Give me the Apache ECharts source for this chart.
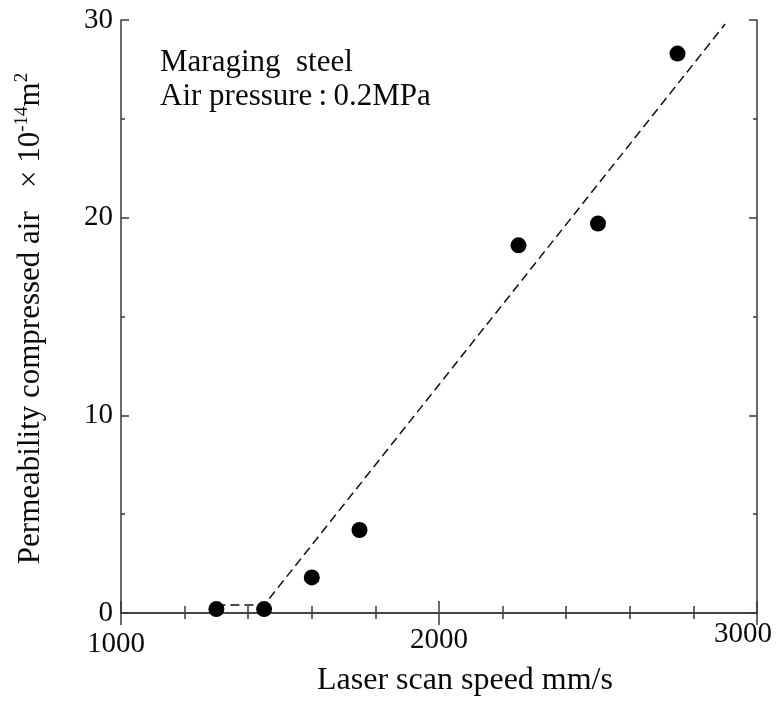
<!DOCTYPE html>
<html>
<head>
<meta charset="utf-8">
<script src="https://cdn.jsdelivr.net/npm/echarts@6/dist/echarts.min.js"></script>
<style>
  html, body { margin: 0; padding: 0; background: #fff; }
  #chart { width: 779px; height: 702px; }
</style>
</head>
<body>
<div id="chart"></div>
<script>
// Measured permeability vs. laser scan speed
const scanSpeed = [1300, 1450, 1600, 1750, 2250, 2500, 2750];
const permeability = [0.2, 0.2, 1.8, 4.2, 18.6, 19.7, 28.3];

// Trend line (flat region, then linear rise)
const trendSpeed = [1300, 1450, 2900];
const trendValue = [0.4, 0.4, 29.8];

// Axis ranges and tick labels
const xTicks = [1000, 2000, 3000];
const yTicks = [0, 10, 20, 30];

const FONT = '"Liberation Serif", "Times New Roman", serif';
const AXIS_COLOR = '#3a3a3a';
const TEXT_COLOR = '#0a0a0a';

const chart = echarts.init(document.getElementById('chart'), null, { renderer: 'canvas' });

const points = scanSpeed.map((s, i) => [s, permeability[i]]);
const trend = trendSpeed.map((s, i) => [s, trendValue[i]]);

// Staggered placement of the x tick labels
const xLabelStyle = {
  x1000: { fontFamily: FONT, fontSize: 29, color: TEXT_COLOR, padding: [10, 10, 0, 0] },
  x2000: { fontFamily: FONT, fontSize: 29, color: TEXT_COLOR, padding: [6, 0, 0, 0] },
  x3000: { fontFamily: FONT, fontSize: 29, color: TEXT_COLOR, padding: [0, 28, 0, 0] }
};

const axisLineStyle = { show: true, lineStyle: { color: AXIS_COLOR, width: 1.5 } };

chart.setOption({
  animation: false,
  backgroundColor: '#fff',
  grid: { left: 121, width: 636, top: 20, height: 597, containLabel: false },
  xAxis: [
    {
      type: 'value',
      position: 'bottom',
      min: xTicks[0],
      max: xTicks[xTicks.length - 1],
      interval: 1000,
      axisLine: axisLineStyle,
      axisTick: { show: true, inside: true, length: 12, lineStyle: { color: AXIS_COLOR, width: 1.5 } },
      minorTick: { show: true, splitNumber: 5, length: 7, lineStyle: { color: AXIS_COLOR, width: 1.5 } },
      splitLine: { show: false },
      axisLabel: {
        margin: 7,
        formatter: v => xTicks.includes(v) ? '{x' + v + '|' + v + '}' : '',
        rich: xLabelStyle
      },
      name: 'Laser scan speed mm/s',
      nameLocation: 'middle',
      nameGap: 52,
      nameTextStyle: { fontFamily: FONT, fontSize: 32, color: TEXT_COLOR, padding: [0, 0, 0, 52] }
    },
    {
      type: 'value',
      position: 'top',
      min: xTicks[0],
      max: xTicks[xTicks.length - 1],
      interval: 1000,
      axisLine: axisLineStyle,
      axisTick: { show: true, inside: true, length: 12, lineStyle: { color: AXIS_COLOR, width: 1.5 } },
      minorTick: { show: true, splitNumber: 5, length: 6, lineStyle: { color: AXIS_COLOR, width: 1.5 } },
      splitLine: { show: false },
      axisLabel: { show: false }
    }
  ],
  yAxis: [
    {
      type: 'value',
      position: 'left',
      min: yTicks[0],
      max: yTicks[yTicks.length - 1],
      interval: 10,
      axisLine: axisLineStyle,
      axisTick: { show: true, inside: true, length: 8, lineStyle: { color: AXIS_COLOR, width: 1.5 } },
      minorTick: { show: true, splitNumber: 2, length: 4, lineStyle: { color: AXIS_COLOR, width: 1.5 } },
      splitLine: { show: false },
      axisLabel: {
        margin: 8,
        fontFamily: FONT,
        fontSize: 29,
        color: TEXT_COLOR,
        formatter: v => yTicks.includes(v) ? String(v) : ''
      },
      name: '{n|Permeability compressed air   × 10}{s|-14}{n|m}{s|2}',
      nameLocation: 'middle',
      nameRotate: 90,
      nameGap: 72,
      nameTextStyle: {
        padding: [0, 4, 0, 0],
        rich: {
          n: { fontFamily: FONT, fontSize: 31, color: TEXT_COLOR, lineHeight: 36 },
          s: { fontFamily: FONT, fontSize: 19, color: TEXT_COLOR, lineHeight: 19, verticalAlign: 'top' }
        }
      }
    },
    {
      type: 'value',
      position: 'right',
      min: yTicks[0],
      max: yTicks[yTicks.length - 1],
      interval: 10,
      axisLine: axisLineStyle,
      axisTick: { show: true, inside: true, length: 8, lineStyle: { color: AXIS_COLOR, width: 1.5 } },
      minorTick: { show: true, splitNumber: 2, length: 4, lineStyle: { color: AXIS_COLOR, width: 1.5 } },
      splitLine: { show: false },
      axisLabel: { show: false }
    }
  ],
  graphic: [
    {
      type: 'text',
      left: 160,
      top: 46,
      silent: true,
      style: {
        text: 'Maraging  steel\nAir pressure\u2009:\u20090.2MPa',
        fontFamily: FONT,
        fontSize: 31,
        lineHeight: 34,
        fill: TEXT_COLOR
      }
    }
  ],
  series: [
    {
      type: 'line',
      data: trend,
      xAxisIndex: 0,
      yAxisIndex: 0,
      symbol: 'none',
      lineStyle: { color: '#111', width: 1.5, type: [9, 5] },
      z: 2
    },
    {
      type: 'scatter',
      data: points,
      xAxisIndex: 0,
      yAxisIndex: 0,
      symbol: 'circle',
      symbolSize: 16,
      itemStyle: { color: '#000', opacity: 1 },
      z: 3
    }
  ]
});
</script>
</body>
</html>
